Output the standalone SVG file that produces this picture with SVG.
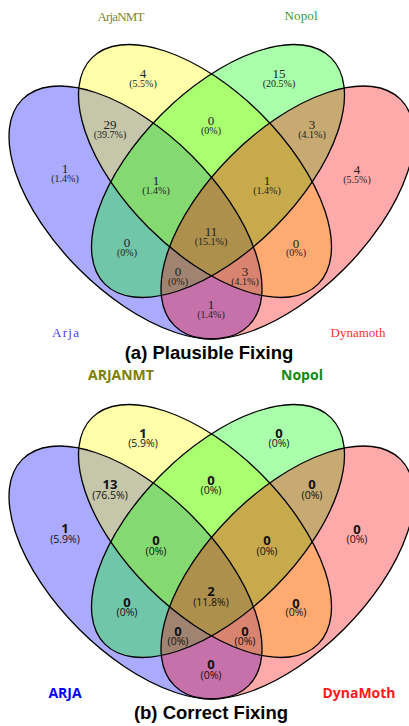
<svg xmlns="http://www.w3.org/2000/svg" xmlns:xlink="http://www.w3.org/1999/xlink" width="409" height="726" viewBox="0 0 409 726">
<style>
.bg{fill:#ffffff}
.fA{fill:#0000ff;fill-opacity:0.333;stroke:none}
.fB{fill:#ffff00;fill-opacity:0.333;stroke:none}
.fC{fill:#00ff00;fill-opacity:0.333;stroke:none}
.fD{fill:#ff0000;fill-opacity:0.333;stroke:none}
.ol{fill:none;stroke:#000;stroke-width:1.3}
text{text-anchor:middle}
.sl{font-family:"Liberation Serif",serif;font-size:13px}
.n{font-family:"Liberation Serif",serif;font-size:13px;fill:#222}
.p{font-family:"Liberation Serif",serif;font-size:10px;fill:#222}
.sl2{font-family:"Open Sans","Liberation Sans",sans-serif;font-size:14px;font-weight:bold}
.n2{font-family:"Open Sans","Liberation Sans",sans-serif;font-size:13px;font-weight:bold;fill:#111}
.p2{font-family:"Open Sans","Liberation Sans",sans-serif;font-size:10.5px;fill:#111}
.t{font-family:"Liberation Sans",Arial,sans-serif;font-size:18.5px;font-weight:bold;fill:#000}
</style>
<defs>
<ellipse id="eA" cx="135.5" cy="212.5" rx="160" ry="80" transform="rotate(45 135.5 212.5)"/>
<ellipse id="eB" cx="205" cy="171" rx="160" ry="80" transform="rotate(45 205 171)"/>
<ellipse id="eC" cx="218" cy="171" rx="160" ry="80" transform="rotate(-45 218 171)"/>
<ellipse id="eD" cx="287.5" cy="212.5" rx="160" ry="80" transform="rotate(-45 287.5 212.5)"/>
</defs>
<rect class="bg" x="0" y="0" width="409" height="726"/>

<!-- (a) Plausible Fixing -->
<g id="venn-plausible">
<g id="a-arja"><use xlink:href="#eA" class="fA"/><text class="sl" x="65.5" y="337" fill="#3d3dff" textLength="27" lengthAdjust="spacing">Arja</text></g>
<g id="a-arjanmt"><use xlink:href="#eB" class="fB"/><text class="sl" x="121" y="21" fill="#85852a" textLength="47" lengthAdjust="spacing">ArjaNMT</text></g>
<g id="a-nopol"><use xlink:href="#eC" class="fC"/><text class="sl" x="301" y="20" fill="#2f9a45" textLength="33" lengthAdjust="spacing">Nopol</text></g>
<g id="a-dynamoth"><use xlink:href="#eD" class="fD"/><text class="sl" x="358" y="337" fill="#ff3030" textLength="55" lengthAdjust="spacing">Dynamoth</text></g>
<g id="a-outlines">
<use xlink:href="#eA" class="ol"/><use xlink:href="#eB" class="ol"/><use xlink:href="#eC" class="ol"/><use xlink:href="#eD" class="ol"/>
</g>
<g id="a-counts">
<text class="n" x="143" y="77.5">4</text><text class="p" x="143" y="86.5">(5.5%)</text>
<text class="n" x="279" y="77.5">15</text><text class="p" x="279" y="86.5">(20.5%)</text>
<text class="n" x="211" y="124.5">0</text><text class="p" x="211" y="133.5">(0%)</text>
<text class="n" x="110" y="128.5">29</text><text class="p" x="110" y="138">(39.7%)</text>
<text class="n" x="312" y="128.5">3</text><text class="p" x="312" y="138">(4.1%)</text>
<text class="n" x="65" y="172.5">1</text><text class="p" x="65" y="182">(1.4%)</text>
<text class="n" x="357" y="173.5">4</text><text class="p" x="357" y="182.5">(5.5%)</text>
<text class="n" x="156" y="184.5">1</text><text class="p" x="156" y="194">(1.4%)</text>
<text class="n" x="267" y="184.5">1</text><text class="p" x="267" y="194">(1.4%)</text>
<text class="n" x="211" y="235.5">11</text><text class="p" x="211" y="245">(15.1%)</text>
<text class="n" x="127" y="246.5">0</text><text class="p" x="127" y="255.5">(0%)</text>
<text class="n" x="296" y="247.5">0</text><text class="p" x="296" y="255.5">(0%)</text>
<text class="n" x="178" y="275.5">0</text><text class="p" x="178" y="284.5">(0%)</text>
<text class="n" x="245" y="275.5">3</text><text class="p" x="245" y="284.5">(4.1%)</text>
<text class="n" x="211" y="308.5">1</text><text class="p" x="211" y="318">(1.4%)</text>
</g>
<text id="a-title" class="t" x="209" y="359">(a) Plausible Fixing</text>
</g>

<!-- (b) Correct Fixing -->
<g id="venn-correct">
<g transform="translate(0,360)">
<g id="b-arja"><use xlink:href="#eA" class="fA"/><text class="sl2" x="65" y="338" fill="#0000ff">ARJA</text></g>
<g id="b-arjanmt"><use xlink:href="#eB" class="fB"/><text class="sl2" x="121" y="20" fill="#808000">ARJANMT</text></g>
<g id="b-nopol"><use xlink:href="#eC" class="fC"/><text class="sl2" x="302" y="20" fill="#108a10">Nopol</text></g>
<g id="b-dynamoth"><use xlink:href="#eD" class="fD"/><text class="sl2" x="359" y="338" fill="#ff1a1a">DynaMoth</text></g>
<g id="b-outlines">
<use xlink:href="#eA" class="ol"/><use xlink:href="#eB" class="ol"/><use xlink:href="#eC" class="ol"/><use xlink:href="#eD" class="ol"/>
</g>
<g id="b-counts">
<text class="n2" x="143" y="77.5">1</text><text class="p2" x="143" y="87">(5.9%)</text>
<text class="n2" x="279" y="77.5">0</text><text class="p2" x="279" y="87">(0%)</text>
<text class="n2" x="211" y="124.5">0</text><text class="p2" x="211" y="134">(0%)</text>
<text class="n2" x="110" y="128.5">13</text><text class="p2" x="110" y="138.5">(76.5%)</text>
<text class="n2" x="312" y="128.5">0</text><text class="p2" x="312" y="138.5">(0%)</text>
<text class="n2" x="65" y="172.5">1</text><text class="p2" x="65" y="182.5">(5.9%)</text>
<text class="n2" x="357" y="173.5">0</text><text class="p2" x="357" y="183">(0%)</text>
<text class="n2" x="156" y="184.5">0</text><text class="p2" x="156" y="194.5">(0%)</text>
<text class="n2" x="267" y="184.5">0</text><text class="p2" x="267" y="194.5">(0%)</text>
<text class="n2" x="211" y="235.5">2</text><text class="p2" x="211" y="245.5">(11.8%)</text>
<text class="n2" x="127" y="246.5">0</text><text class="p2" x="127" y="256">(0%)</text>
<text class="n2" x="296" y="247.5">0</text><text class="p2" x="296" y="256">(0%)</text>
<text class="n2" x="178" y="275.5">0</text><text class="p2" x="178" y="285">(0%)</text>
<text class="n2" x="245" y="275.5">0</text><text class="p2" x="245" y="285">(0%)</text>
<text class="n2" x="211" y="308.5">0</text><text class="p2" x="211" y="318.5">(0%)</text>
</g>
</g>
<text id="b-title" class="t" x="211" y="719">(b) Correct Fixing</text>
</g>
</svg>
